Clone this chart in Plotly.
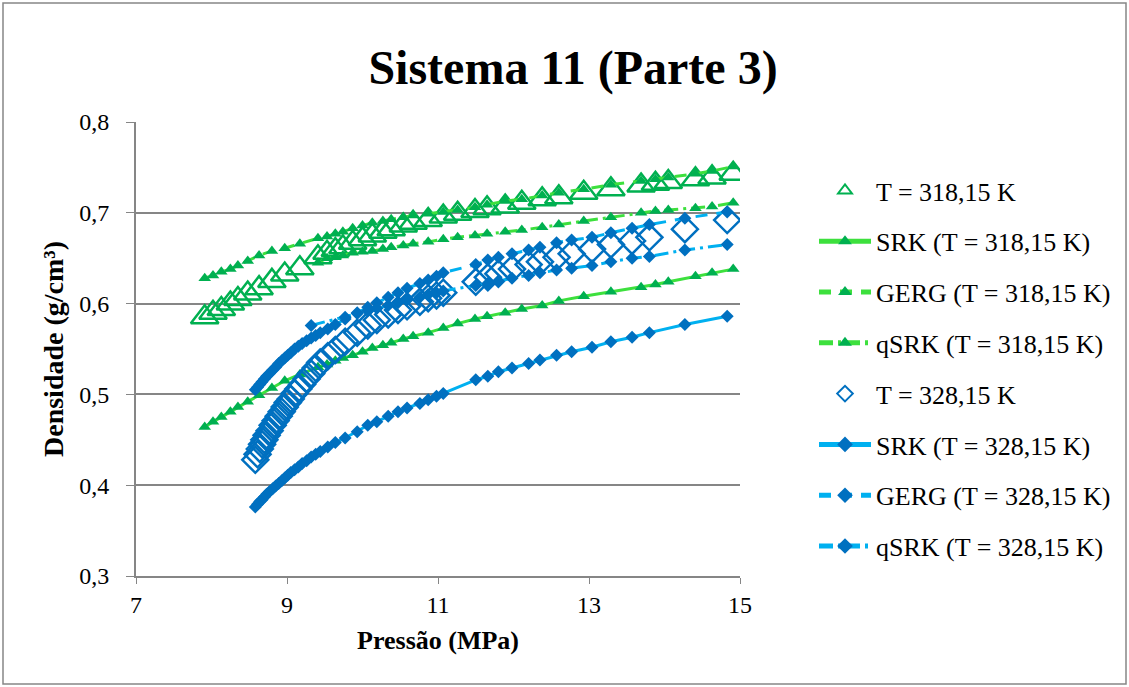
import plotly.graph_objects as go

# ---------------- data ----------------
P318 = [7.91, 8.02, 8.13, 8.25, 8.35, 8.48, 8.63, 8.80, 8.97, 9.17, 9.41, 9.53, 9.64, 9.74,
        9.87, 10.00, 10.13, 10.27, 10.38, 10.54, 10.67, 10.87, 11.07, 11.26, 11.49, 11.65,
        11.89, 12.11, 12.38, 12.60, 12.93, 13.29, 13.69, 13.88, 14.05, 14.41, 14.63, 14.91]
EXP318 = [0.585, 0.590, 0.594, 0.600, 0.605, 0.611, 0.617, 0.625, 0.632, 0.639, 0.651, 0.656,
          0.659, 0.662, 0.667, 0.671, 0.675, 0.679, 0.682, 0.686, 0.689, 0.692, 0.696, 0.699,
          0.702, 0.705, 0.707, 0.711, 0.715, 0.717, 0.722, 0.726, 0.730, 0.732, 0.734, 0.737,
          0.739, 0.743]
SRK318 = [0.464, 0.470, 0.475, 0.481, 0.486, 0.492, 0.499, 0.507, 0.515, 0.522, 0.530, 0.533,
          0.537, 0.540, 0.543, 0.547, 0.551, 0.554, 0.557, 0.561, 0.564, 0.568, 0.573, 0.578,
          0.583, 0.586, 0.590, 0.594, 0.598, 0.603, 0.608, 0.613, 0.618, 0.621, 0.624, 0.630,
          0.634, 0.638]
GERG318 = [0.628, 0.631, 0.635, 0.638, 0.642, 0.647, 0.653, 0.658, 0.661, 0.666, 0.672, 0.674,
           0.677, 0.679, 0.683, 0.686, 0.689, 0.691, 0.693, 0.695, 0.697, 0.699, 0.701, 0.703,
           0.706, 0.709, 0.713, 0.715, 0.719, 0.722, 0.726, 0.731, 0.735, 0.737, 0.739, 0.743,
           0.746, 0.751]
QSRK318 = [None, None, None, None, None, None, None, None, None, None, 0.645, 0.650,
           0.651, 0.653, 0.656, 0.657, 0.658, 0.660, 0.662, 0.664, 0.666, 0.668, 0.671, 0.673,
           0.675, 0.677, 0.679, 0.681, 0.684, 0.687, 0.691, 0.695, 0.700, 0.702, 0.703, 0.705,
           0.707, 0.711]

P328 = [8.58, 8.61, 8.64, 8.67, 8.70, 8.73, 8.77, 8.81, 8.85, 8.89, 8.93, 8.97, 9.01, 9.05,
        9.10, 9.15, 9.20, 9.26, 9.32, 9.38, 9.44, 9.54, 9.64, 9.77, 9.93, 10.07, 10.19, 10.34,
        10.47, 10.59, 10.76, 10.87, 10.98, 11.07, 11.50, 11.66, 11.80, 11.98, 12.20, 12.35,
        12.57, 12.77, 13.04, 13.29, 13.57, 13.80, 14.27, 14.83]
EXP328 = [0.428, 0.434, 0.440, 0.445, 0.450, 0.455, 0.460, 0.466, 0.471, 0.476, 0.481, 0.486,
          0.491, 0.495, 0.501, 0.506, 0.511, 0.517, 0.523, 0.529, 0.535, 0.542, 0.549, 0.558,
          0.568, 0.576, 0.582, 0.588, 0.593, 0.597, 0.602, 0.606, 0.609, 0.612, 0.624, 0.629,
          0.633, 0.638, 0.643, 0.646, 0.651, 0.655, 0.660, 0.665, 0.669, 0.673, 0.682, 0.692]
SRK328 = [0.376, 0.379, 0.382, 0.384, 0.387, 0.390, 0.393, 0.396, 0.399, 0.402, 0.405, 0.408,
          0.411, 0.414, 0.417, 0.420, 0.424, 0.427, 0.431, 0.434, 0.437, 0.442, 0.447, 0.452,
          0.459, 0.466, 0.470, 0.476, 0.481, 0.485, 0.490, 0.494, 0.498, 0.501, 0.516, 0.520,
          0.525, 0.529, 0.534, 0.538, 0.543, 0.547, 0.552, 0.558, 0.563, 0.568, 0.577, 0.586]
GERG328 = [0.505, 0.508, 0.511, 0.514, 0.517, 0.520, 0.523, 0.527, 0.530, 0.534, 0.537, 0.540,
           0.543, 0.546, 0.550, 0.553, 0.556, 0.559, 0.562, 0.565, 0.568, 0.572, 0.577, 0.583,
           0.590, 0.596, 0.601, 0.607, 0.612, 0.617, 0.622, 0.626, 0.630, 0.634, 0.643, 0.648,
           0.651, 0.655, 0.659, 0.662, 0.667, 0.670, 0.673, 0.678, 0.683, 0.687, 0.694, 0.701]
QSRK328 = [None, None, None, None, None, None, None, None, None, None, None, None,
           None, None, None, None, None, None, 0.576, None, None, None, None, 0.585,
           0.589, 0.592, 0.595, 0.598, 0.601, 0.604, 0.607, 0.610, 0.612, 0.614, 0.620, 0.622,
           0.625, 0.628, 0.631, 0.634, 0.637, 0.639, 0.642, 0.646, 0.650, 0.652, 0.659, 0.665]

NAMES = ["T = 318,15 K", "SRK (T = 318,15 K)", "GERG (T = 318,15 K)", "qSRK (T = 318,15 K)",
         "T = 328,15 K", "SRK (T = 328,15 K)", "GERG (T = 328,15 K)", "qSRK (T = 328,15 K)"]

X_TICKS = [7, 9, 11, 13, 15]
Y_TICKS = [0.3, 0.4, 0.5, 0.6, 0.7, 0.8]

# ---------------- styles ----------------
GREEN_M = "#00B050"
GREEN_L = "#3DE03D"
BLUE_M = "#0070C0"
BLUE_L = "#00B0F0"
FONT = "Liberation Serif"
DASH = "12px,9px"
DASHDOT = "14px,5px,3px,5px"

fig = go.Figure()

series = [
    (P318, EXP318, NAMES[0], "markers", "triangle-up-open", 24, GREEN_M, None, None),
    (P318, SRK318, NAMES[1], "lines+markers", "triangle-up", 11, GREEN_M, GREEN_L, "solid"),
    (P318, GERG318, NAMES[2], "lines+markers", "triangle-up", 11, GREEN_M, GREEN_L, DASH),
    (P318, QSRK318, NAMES[3], "lines+markers", "triangle-up", 11, GREEN_M, GREEN_L, DASHDOT),
    (P328, EXP328, NAMES[4], "markers", "diamond-open", 20, BLUE_M, None, None),
    (P328, SRK328, NAMES[5], "lines+markers", "diamond", 10, BLUE_M, BLUE_L, "solid"),
    (P328, GERG328, NAMES[6], "lines+markers", "diamond", 10, BLUE_M, BLUE_L, DASH),
    (P328, QSRK328, NAMES[7], "lines+markers", "diamond", 10, BLUE_M, BLUE_L, DASHDOT),
]

for i, (xs, ys, name, mode, sym, size, mcol, lcol, dash) in enumerate(series):
    marker = dict(symbol=sym, size=size, color=mcol)
    if sym.endswith("open"):
        marker["line"] = dict(color=mcol, width=2.5)
    else:
        marker["line"] = dict(color=mcol, width=0)
    kw = dict(x=xs, y=ys, name=name, mode=mode, marker=marker,
              legendgroup="g%d" % i, connectgaps=True)
    if lcol:
        kw["line"] = dict(color=lcol, width=3, dash=dash)
    fig.add_trace(go.Scatter(**kw))

L, R, T, B = 136, 389, 122, 111
fig.update_layout(
    width=1129, height=687,
    margin=dict(l=L, r=R, t=T, b=B),
    paper_bgcolor="white", plot_bgcolor="white",
    separators=", ",
    font=dict(family=FONT, size=24, color="black"),
    title=dict(text="<b>Sistema 11 (Parte 3)</b>", x=573 / 1129, xanchor="center",
               y=1 - 67 / 687, yanchor="middle",
               font=dict(family=FONT, size=48, color="black")),
    xaxis=dict(range=[7, 15], tickvals=X_TICKS, ticktext=[str(v) for v in X_TICKS],
               showgrid=False, zeroline=False, showline=True, linecolor="#868686",
               linewidth=2, ticks="outside", ticklen=6, tickcolor="#868686",
               tickfont=dict(family=FONT, size=24),
               title=dict(text="<b>Pressão (MPa)</b>", font=dict(family=FONT, size=26),
                          standoff=14)),
    yaxis=dict(range=[0.3, 0.8], tickvals=Y_TICKS, tickformat=".1f",
               showgrid=True, gridcolor="#868686", gridwidth=2, zeroline=False,
               showline=True, linecolor="#868686", linewidth=2,
               ticks="outside", ticklen=8, tickcolor="#868686",
               ticklabelstandoff=12,
               tickfont=dict(family=FONT, size=24),
               title=dict(text="<b>Densidade (g/cm³)</b>", font=dict(family=FONT, size=28),
                          standoff=7)),
    legend=dict(x=(814 - L) / 604, y=1 - (167 - T) / 454, xanchor="left", yanchor="top",
                font=dict(family=FONT, size=26, color="black"), bgcolor="rgba(0,0,0,0)",
                itemsizing="constant", tracegroupgap=14, itemwidth=52),
    shapes=[dict(type="rect", xref="paper", yref="paper",
                 x0=-(L - 3) / 604, x1=1 + (R - 3) / 604,
                 y0=-(B - 3) / 454, y1=1 + (T - 3) / 454,
                 line=dict(color="#868686", width=1.5), fillcolor="rgba(0,0,0,0)", layer="below")],
)

fig.write_html("out.html")
